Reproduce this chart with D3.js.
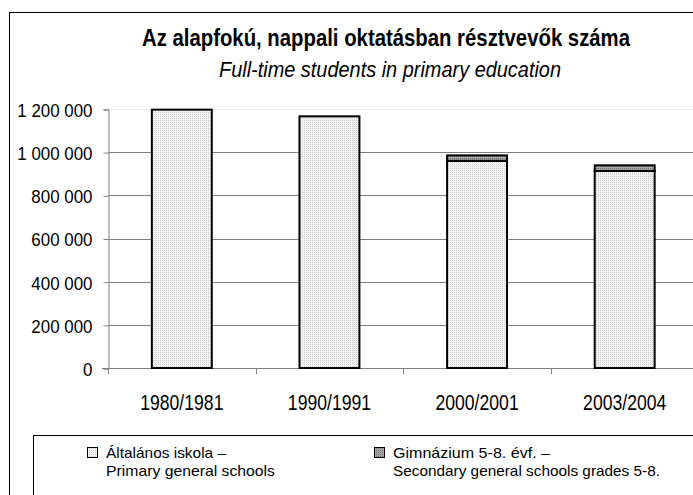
<!DOCTYPE html>
<html>
<head>
<meta charset="utf-8">
<script src="https://cdnjs.cloudflare.com/ajax/libs/d3/7.8.5/d3.min.js"></script>
<style>
  body { margin: 0; background: #fff; }
  text { font-family: "Liberation Sans", Arial, sans-serif; fill: #000; }
</style>
</head>
<body>
<div id="chart"></div>
<script>
// data
const years = ["1980/1981", "1990/1991", "2000/2001", "2003/2004"]
const primary = [1197000, 1166000, 960000, 913000]
const gimnazium = [0, 0, 25000, 26000]
const yTicks = [0, 200000, 400000, 600000, 800000, 1000000, 1200000]
const legendLines = [
  ["Általános iskola –", "Primary general schools"],
  ["Gimnázium 5-8. évf. –", "Secondary general schools grades 5-8."]
]

const w = 693
const h = 495

//1. canvas, patterns, frame
const svg = d3.select("#chart").append("svg")
              .attr("width", w)
              .attr("height", h)

const defs = svg.append("defs")
function dotPattern(id, base, dot){
  const p = defs.append("pattern")
                .attr("id", id)
                .attr("width", 2)
                .attr("height", 2)
                .attr("patternUnits", "userSpaceOnUse")
  p.append("rect").attr("width", 2).attr("height", 2).attr("fill", base)
  p.append("rect").attr("width", 1).attr("height", 1).attr("fill", dot)
}
dotPattern("light", "#f2f2f2", "#cfcfcf")
dotPattern("dark", "#a8a8a8", "#6e6e6e")
const fills = ["url(#light)", "url(#dark)"]

// outer chart frame (runs off the right/bottom edge)
svg.append("rect")
   .attr("x", 9.5).attr("y", 12.5)
   .attr("width", 720).attr("height", 520)
   .attr("fill", "none")
   .attr("stroke", "#000")

//2. scales and stacked data
const x = d3.scaleBand()
            .domain(years)
            .range([108, 698.5])
            .padding(0)
const barW = x.bandwidth() * 0.406

const y = d3.scaleLinear()
            .domain([0, 1200000])
            .range([368, 109])

const table = years.map((yr, i) => ({year: yr, primary: primary[i], gimnazium: gimnazium[i]}))
const stack = d3.stack().keys(["primary", "gimnazium"])(table)

//3. gridlines and axes
svg.append("g")
   .selectAll("line")
   .data(yTicks.filter(d => d > 0))
   .enter()
   .append("line")
   .attr("x1", 108).attr("x2", 698.5)
   .attr("y1", d => Math.round(y(d)) + 0.5)
   .attr("y2", d => Math.round(y(d)) + 0.5)
   .attr("stroke", d => d === 1200000 ? "#ececec" : "#808080")

const yAxis = d3.axisLeft(y)
                .tickValues(yTicks)
                .tickSize(5)
                .tickPadding(11)
                .tickFormat(d => d3.format(",")(d).replace(/,/g, " "))

const gy = svg.append("g")
   .attr("transform", "translate(108.5,0.5)")
   .call(yAxis)
gy.select(".domain").attr("stroke", "#808080")
gy.selectAll(".tick line").attr("stroke", "#808080")
gy.selectAll("text")
  .attr("font-size", 19)
  .attr("fill", "#000")
  .attr("dy", "0.36em")
  .each(function(){
    const t = d3.select(this)
    t.attr("textLength", this.getComputedTextLength() * 0.89)
     .attr("lengthAdjust", "spacingAndGlyphs")
  })

const xAxis = d3.axisBottom(x)
                .tickSize(0)
                .tickPadding(26)

const gx = svg.append("g")
   .attr("transform", "translate(0,368.5)")
   .call(xAxis)
gx.select(".domain").attr("d", "M102,0H698.5").attr("stroke", "#808080")
gx.selectAll("text")
  .attr("font-size", 22)
  .attr("fill", "#000")
  .each(function(){
    d3.select(this)
      .attr("textLength", this.getComputedTextLength() * 0.8)
      .attr("lengthAdjust", "spacingAndGlyphs")
  })

// tick marks sit between the categories
svg.append("g")
   .selectAll("line")
   .data(years)
   .enter()
   .append("line")
   .attr("x1", d => Math.round(x(d)) + 0.5)
   .attr("x2", d => Math.round(x(d)) + 0.5)
   .attr("y1", 368)
   .attr("y2", 374)
   .attr("stroke", "#808080")

//4. the stacked bars
svg.append("g")
   .selectAll("g")
   .data(stack)
   .enter()
   .append("g")
   .attr("fill", (d, i) => fills[i])
   .selectAll("rect")
   .data(d => d.filter(s => s[1] - s[0] > 0))
   .enter()
   .append("rect")
   .attr("x", d => x(d.data.year) + (x.bandwidth() - barW) / 2)
   .attr("width", barW)
   .attr("y", d => y(d[1]))
   .attr("height", d => y(d[0]) - y(d[1]))
   .attr("stroke", "#000")
   .attr("stroke-width", 2)

//5. titles
svg.append("text")
   .attr("x", 142).attr("y", 46)
   .attr("font-size", 23)
   .attr("font-weight", "bold")
   .attr("textLength", 488)
   .attr("lengthAdjust", "spacingAndGlyphs")
   .text("Az alapfokú, nappali oktatásban résztvevők száma")

svg.append("text")
   .attr("x", 219).attr("y", 77)
   .attr("font-size", 22)
   .attr("font-style", "italic")
   .attr("textLength", 342)
   .attr("lengthAdjust", "spacingAndGlyphs")
   .text("Full-time students  in primary education")

//6. legend
svg.append("rect")
   .attr("x", 33.5).attr("y", 435.5)
   .attr("width", 700).attr("height", 100)
   .attr("fill", "#fff")
   .attr("stroke", "#000")

const legX = [87, 374]
const legW = [[120, 169], [157, 267]]
const leg = svg.append("g")
               .selectAll("g")
               .data(legendLines)
               .enter()
               .append("g")
               .attr("transform", (d, i) => "translate(" + legX[i] + ",0)")

leg.append("rect")
   .attr("x", 0.5).attr("y", 447.5)
   .attr("width", 10).attr("height", 10)
   .attr("fill", (d, i) => fills[i])
   .attr("stroke", "#000")

leg.each(function(d, i){
  const g = d3.select(this)
  d.forEach((line, j) => {
    g.append("text")
     .attr("x", 19)
     .attr("y", 458 + j * 18)
     .attr("font-size", 15)
     .attr("textLength", legW[i][j])
     .attr("lengthAdjust", "spacingAndGlyphs")
     .text(line)
  })
})
</script>
</body>
</html>
